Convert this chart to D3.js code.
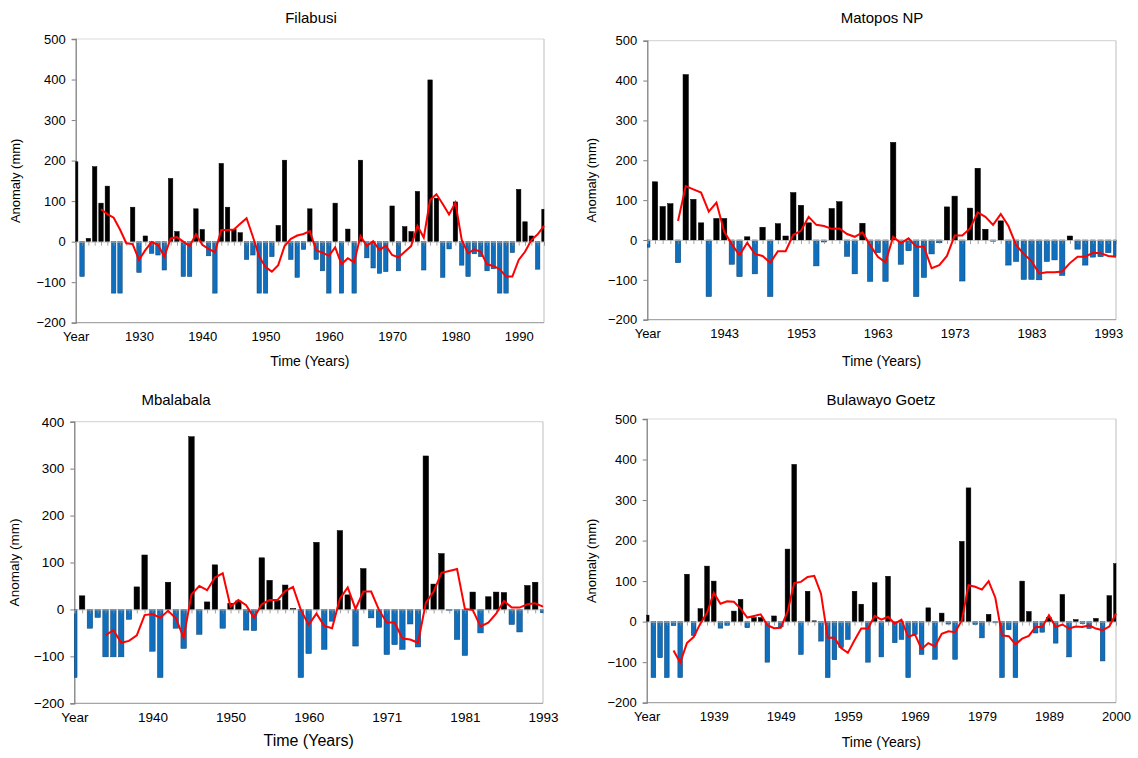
<!DOCTYPE html>
<html>
<head>
<meta charset="utf-8">
<script src="https://cdn.jsdelivr.net/npm/d3@7"></script>
<style>
  body { margin: 0; background: #fff; }
  svg text { font-family: "Liberation Sans", Arial, sans-serif; fill: #000; }
</style>
</head>
<body>
<svg id="chart" width="1138" height="758"></svg>
<script>
// ---- data ----
const filabusiYears = d3.range(1920, 1995);
const filabusiValues = [197, -86, 8, 185, 95, 137, -127, -127, 0, 85, -76, 14, -29, -33, -70, 156, 25, -86, -86, 81,
  30, -35, -127, 193, 85, 30, 22, -44, -33, -127, -127, -37, 40, 201, -44, -88, -19, 81, -44, -72,
  -127, 95, -127, 31, -127, 201, -40, -65, -78, -74, 88, -72, 37, 25, 124, -70, 399, 107, -88, -18,
  98, -58, -86, -30, -37, -72, -67, -127, -127, -27, 129, 49, 14, -68, 80];
const filabusiAvg = [null, null, null, null, 80, 68, 59, 30, -4, -6, -45, -21, -1, -8, -37, 8, 11, 0, -11, 18,
  -8, -18, -26, 29, 29, 30, 44, 58, 12, -37, -63, -74, -58, -11, 7, 15, 19, 26, -22, -27,
  -35, -14, -56, -41, -51, 14, -11, 1, -21, -10, -33, -39, -25, -11, 39, 10, 103, 117, 93, 67,
  96, 4, -29, -19, -25, -56, -60, -68, -86, -86, -45, -25, 4, 18, 39];

const matoposYears = d3.range(1933, 1995);
const matoposValues = [-18, 146, 84, 91, -57, 415, 102, 43, -142, 54, 54, -61, -92, 8, -85, 32, -142, 41, 10, 119,
  87, 43, -65, -5, 79, 96, -41, -85, 42, -104, -32, -104, 245, -61, -27, -142, -94, -35, -7, 83,
  110, -103, 80, 180, 27, -3, 48, -63, -54, -99, -99, -100, -54, -50, -89, 10, -23, -63, -43, -42,
  -32, -42];
const matoposAvg = [null, null, null, null, 48, 135, 127, 119, 71, 94, 21, -11, -38, -7, -35, -40, -57, -28, -28, 13,
  23, 58, 38, 35, 28, 29, 15, 8, 19, -13, -42, -56, 8, -8, 4, -17, -17, -71, -63, -40,
  11, 11, 29, 69, 58, 38, 65, 35, -13, -35, -53, -84, -81, -81, -79, -58, -42, -42, -32, -33,
  -40, -42];

const mbalabalaYears = [1930, 1931, 1932, 1933, 1934, 1935, 1936, 1937, 1938, 1939, 1940, 1941, 1942, 1943, 1944,
  1945, 1946, 1947, 1948, 1949, 1950, 1951, 1952, 1953, 1954, 1955, 1956, 1957, 1958, 1959, 1960,
  1961, 1962, 1963, 1964, 1965, 1967, 1968, 1969, 1970, 1971, 1972, 1973, 1974, 1975, 1976, 1977,
  1978, 1979, 1980, 1981, 1982, 1983, 1984, 1985, 1986, 1987, 1988, 1989, 1992, 1993];
const mbalabalaValues = [-145, 29, -40, -17, -101, -101, -101, -21, 48, 116, -89, -145, 58, -40, -83, 368, -53, 16, 95, -40,
  13, 18, -44, -45, 110, 62, 19, 52, 2, -145, -94, 143, -85, -25, 168, 31, -78, 87, -18, -38,
  -96, -75, -85, -31, -80, 327, 54, 119, -2, -64, -98, 37, -50, 27, 37, 36, -32, -48, 51, 58, -7];
const mbalabalaAvg = [null, null, null, null, -55, -44, -71, -67, -55, -12, -10, -18, -3, -19, -60, 32, 50, 41, 68, 77,
  6, 20, 9, -18, 11, 20, 20, 39, 48, -1, -33, -9, -35, -40, 23, 47, 1, 38, 38, -1,
  -28, -28, -62, -64, -71, 14, 38, 78, 82, 86, 1, -1, -36, -28, -9, 18, 4, 4, 11, 13, 6];

const bulawayoYears = [1929, 1930, 1931, 1932, 1933, 1934, 1935, 1936, 1937, 1938, 1939, 1940, 1941, 1942, 1943,
  1944, 1945, 1946, 1947, 1948, 1949, 1950, 1951, 1952, 1953, 1954, 1955, 1956, 1957, 1958, 1959,
  1960, 1961, 1962, 1963, 1964, 1965, 1966, 1967, 1968, 1969, 1970, 1971, 1972, 1973, 1974, 1975,
  1976, 1977, 1978, 1979, 1980, 1981, 1982, 1983, 1984, 1985, 1986, 1987, 1988, 1989, 1990, 1991,
  1992, 1993, 1995, 1996, 1997, 1998, 1999, 2000];
const bulawayoValues = [16, -138, -89, -138, -10, -138, 117, -34, 32, 137, 100, -16, -9, 26, 55, -15, 10, 10, -100, 14,
  -13, 179, 388, -81, 75, 2, -48, -138, -94, -64, -44, 75, 43, -100, 96, -87, 112, -52, -44, -138,
  -32, -81, 34, -93, 21, -6, -93, 198, 330, -7, -40, 18, -3, -138, -20, -138, 100, 25, -28, -26,
  10, -53, 67, -87, 5, -5, -17, 8, -97, 64, 143];
const bulawayoAvg = [null, null, null, null, -71, -101, -53, -38, -5, 22, 71, 44, 50, 49, 32, 10, 14, 18, -9, -16,
  -15, 24, 95, 98, 110, 113, 69, -40, -40, -65, -77, -46, -17, -17, 14, 5, 12, -5, 5, -38,
  -31, -68, -53, -61, -30, -24, -26, 3, 90, 86, 79, 100, 59, -34, -36, -56, -42, -35, -13, -13,
  16, -13, -7, -17, -12, -13, -9, -17, -21, -12, 20];

const yTicksA = [-200, -100, 0, 100, 200, 300, 400, 500];
const yTicksB = [-200, -100, 0, 100, 200, 300, 400];

const panels = [
  { title: "Filabusi", years: filabusiYears, values: filabusiValues, avg: filabusiAvg, yTicks: yTicksA,
    x0: 75.7, x1: 544, y0: 39, y1: 322.7, titleX: 311, titleY: 23, ytX: 20, xtY: 366, tickY: 341,
    axisFont: 13, xTitleFont: 14 },
  { title: "Matopos NP", years: matoposYears, values: matoposValues, avg: matoposAvg, yTicks: yTicksA,
    x0: 647.3, x1: 1116, y0: 40.7, y1: 319.7, titleX: 882, titleY: 23, ytX: 596, xtY: 366, tickY: 338,
    axisFont: 13, xTitleFont: 14 },
  { title: "Mbalabala", years: mbalabalaYears, values: mbalabalaValues, avg: mbalabalaAvg, yTicks: yTicksB,
    x0: 74.3, x1: 543, y0: 421.7, y1: 703.3, titleX: 176, titleY: 405, ytX: 19, xtY: 746, tickY: 722,
    axisFont: 13.5, xTitleFont: 16 },
  { title: "Bulawayo Goetz", years: bulawayoYears, values: bulawayoValues, avg: bulawayoAvg, yTicks: yTicksA,
    x0: 646.7, x1: 1116, y0: 419, y1: 702.7, titleX: 881, titleY: 405, ytX: 596, xtY: 747, tickY: 721,
    axisFont: 13, xTitleFont: 14 }
];

const svg = d3.select("#chart");

panels.forEach((p) => {
  const g = svg.append("g");

  const x = d3.scalePoint()
    .domain(p.years)
    .range([p.x0, p.x1])
    .padding(0);
  const y = d3.scaleLinear()
    .domain([d3.min(p.yTicks), d3.max(p.yTicks)])
    .range([p.y1, p.y0]);

  const step = x.step();
  const barW = step * 0.7;

  // frame: light top and right lines
  g.append("line").attr("x1", p.x0).attr("x2", p.x1).attr("y1", p.y0).attr("y2", p.y0)
    .attr("stroke", "#d9d9d9").attr("stroke-width", 1.2);
  g.append("line").attr("x1", p.x1).attr("x2", p.x1).attr("y1", p.y0).attr("y2", p.y1)
    .attr("stroke", "#c8c8c8").attr("stroke-width", 1.2);
  g.append("line").attr("x1", p.x0).attr("x2", p.x1).attr("y1", p.y1).attr("y2", p.y1)
    .attr("stroke", "#a6a6a6").attr("stroke-width", 1.2);

  // y axis
  const yAxis = g.append("g")
    .attr("transform", "translate(" + p.x0 + ",0)")
    .call(d3.axisLeft(y).tickValues(p.yTicks).tickSize(4).tickPadding(6));
  yAxis.select(".domain").attr("stroke", "#7f7f7f").attr("stroke-width", 1.3);
  yAxis.selectAll(".tick line").attr("stroke", "#7f7f7f");
  yAxis.selectAll("text").style("font-size", p.axisFont + "px").attr("fill", "#000");

  // bars
  g.selectAll("rect.bar")
    .data(p.values.map((v, i) => ({ year: p.years[i], v: v })))
    .enter()
    .append("rect")
    .attr("class", "bar")
    .attr("x", (d) => x(d.year) - barW / 2)
    .attr("width", barW)
    .attr("y", (d) => y(Math.max(0, d.v)))
    .attr("height", (d) => Math.abs(y(d.v) - y(0)))
    .attr("fill", (d) => d.v >= 0 ? "#000" : "#0f6fbd")
    .attr("stroke", (d) => d.v >= 0 ? "#000" : "#0a3f6b")
    .attr("stroke-width", 0.5);

  // category axis crossing at zero
  const xAxis = g.append("g")
    .attr("transform", "translate(0," + y(0) + ")")
    .call(d3.axisBottom(x).tickSize(4).tickFormat(""));
  xAxis.select(".domain").attr("stroke", "#bfbfbf").attr("stroke-width", 0.8);
  xAxis.selectAll(".tick line").attr("stroke", "#8c8c8c").attr("stroke-width", 0.8);

  // first and last bars are cut by the plot edges
  g.selectAll("rect.bar").filter((d, i) => i === 0 || i === p.values.length - 1)
    .attr("x", (d, i) => i === 0 ? p.x0 : x(d.year) - barW / 2)
    .attr("width", barW / 2);

  // tick labels every 10 categories, first one reads "Year"
  const labelYears = p.years.filter((d, i) => i % 10 === 0);
  g.append("g")
    .attr("transform", "translate(0," + p.tickY + ")")
    .call(d3.axisBottom(x).tickValues(labelYears).tickSize(0).tickPadding(0)
      .tickFormat((d, i) => i === 0 ? "Year" : d))
    .call((a) => a.select(".domain").remove())
    .selectAll("text")
    .attr("dy", "0")
    .style("font-size", p.axisFont + "px");

  // moving average line
  const line = d3.line()
    .defined((d) => d.v !== null)
    .x((d) => x(d.year))
    .y((d) => y(d.v));
  g.append("path")
    .datum(p.avg.map((v, i) => ({ year: p.years[i], v: v })))
    .attr("d", line)
    .attr("fill", "none")
    .attr("stroke", "#ff0000")
    .attr("stroke-width", 2);

  // titles
  g.append("text")
    .attr("x", p.titleX).attr("y", p.titleY)
    .attr("text-anchor", "middle")
    .style("font-size", "15px")
    .text(p.title);

  g.append("text")
    .attr("transform", "translate(" + p.ytX + "," + ((p.y0 + p.y1) / 2) + ") rotate(-90)")
    .attr("text-anchor", "middle")
    .style("font-size", p.axisFont + "px")
    .text("Anomaly (mm)");

  g.append("text")
    .attr("x", (p.x0 + p.x1) / 2).attr("y", p.xtY)
    .attr("text-anchor", "middle")
    .style("font-size", p.xTitleFont + "px")
    .text("Time (Years)");
});
</script>
</body>
</html>
